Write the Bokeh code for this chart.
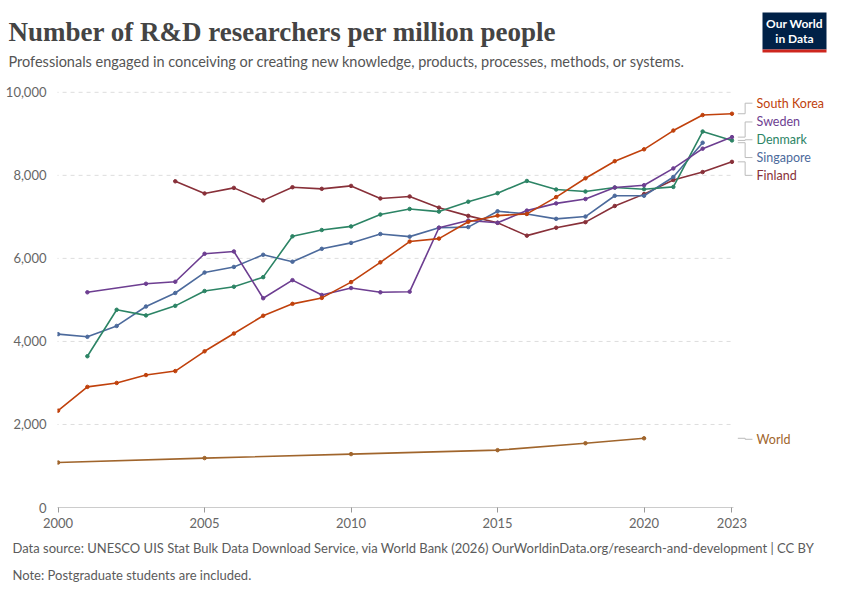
from bokeh.plotting import figure
from bokeh.layouts import column
from bokeh.models import Title, FixedTicker, NumeralTickFormatter
from bokeh.core.properties import value
from bokeh.embed import file_html
from bokeh.resources import INLINE

years = list(range(2000, 2024))
south_korea = [2333, 2905, 3000, 3190, 3286, 3762, 4190, 4619, 4905, 5048, 5429, 5905, 6405, 6476, 6881, 7030, 7071, 7476, 7929, 8341, 8627, 9079, 9452, 9484]
finland_years = list(range(2004, 2024))
finland = [7857, 7564, 7698, 7397, 7714, 7675, 7746, 7444, 7492, 7222, 7024, 6857, 6548, 6738, 6873, 7262, 7548, 7889, 8079, 8325]
denmark_years = list(range(2001, 2024))
denmark = [3643, 4762, 4627, 4857, 5214, 5317, 5548, 6532, 6683, 6770, 7056, 7190, 7127, 7365, 7571, 7865, 7659, 7611, 7706, 7667, 7722, 9056, 8841]
singapore_years = list(range(2000, 2023))
singapore = [4175, 4111, 4373, 4841, 5167, 5659, 5794, 6087, 5920, 6230, 6373, 6587, 6524, 6738, 6754, 7135, 7071, 6952, 7008, 7508, 7508, 7960, 8786]
sweden_years = [2001] + list(range(2003, 2024))
sweden = [5183, 5389, 5437, 6111, 6167, 5040, 5476, 5119, 5286, 5183, 5198, 6738, 6913, 6857, 7151, 7325, 7429, 7706, 7762, 8167, 8643, 8921]
world_years = [2000, 2005, 2010, 2015, 2018, 2020]
world = [1083, 1190, 1286, 1381, 1548, 1667]
y_ticks = [0, 2000, 4000, 6000, 8000, 10000]
x_ticks = [2000, 2005, 2010, 2015, 2020, 2023]

series = [
    ("World", world_years, world, "#a0652c", 1643),
    ("Finland", finland_years, finland, "#883039", 8000),
    ("Singapore", singapore_years, singapore, "#4c6a9c", 8429),
    ("Denmark", denmark_years, denmark, "#2c8465", 8857),
    ("Sweden", sweden_years, sweden, "#6d3e91", 9286),
    ("South Korea", years, south_korea, "#c0410c", 9738),
]

FONT = "Lato"
W = 834
HH = 82

# ---- header ----
h = figure(width=W, height=HH, output_backend="svg", toolbar_location=None,
           x_range=(0, W), y_range=(0, HH), min_border=0, outline_line_color=None)
h.axis.visible = False
h.grid.visible = False
h.text(x=[8], y=[HH - 31], text=["Number of R&D researchers per million people"],
       text_font=value("Liberation Serif"), text_font_size="27px", text_font_style="bold",
       text_color="#444444", text_baseline="middle")
h.text(x=[8], y=[HH - 61], text=["Professionals engaged in conceiving or creating new knowledge, products, processes, methods, or systems."],
       text_font=value(FONT), text_font_size="14.5px", text_color="#555555", text_baseline="middle")
h.quad(left=[762], right=[826], top=[HH - 12], bottom=[HH - 49], fill_color="#002147", line_color=None)
h.quad(left=[762], right=[826], top=[HH - 49], bottom=[HH - 52], fill_color="#ce261e", line_color=None)
h.text(x=[794, 794], y=[HH - 23, HH - 38], text=["Our World", "in Data"], text_font=value(FONT),
       text_font_size="12px", text_font_style="bold", text_color="white",
       text_align="center", text_baseline="middle")

# ---- main ----
X0, X1 = 1999.98, 2026.5
p = figure(width=W, height=584 - HH, output_backend="svg", toolbar_location=None,
           x_range=(X0, X1), y_range=(0, 10140),
           min_border_left=57, min_border_right=0, min_border_top=4, min_border_bottom=8,
           outline_line_color=None)
p.grid.visible = False

gy = y_ticks[1:]
p.segment(x0=[X0 - 0.1] * len(gy), x1=[2023.05] * len(gy), y0=gy, y1=gy,
          line_color="#dddddd", line_dash="4 4", line_width=1)
p.segment(x0=[X0 - 0.1], x1=[2023.05], y0=[0], y1=[0], line_color="#999999", line_width=1)

for name, xs, ys, col, ly in series:
    p.line(xs, ys, line_color=col, line_width=1.6)
    p.scatter(xs, ys, color=col, size=3.5)
    ex, ey = xs[-1], ys[-1]
    p.line([2023.2, 2023.45, 2023.45, 2023.7], [ey, ey, ly, ly], line_color="#bbbbbb", line_width=1)
    p.text(x=[2023.84], y=[ly], text=[name], text_color=col, text_font=value(FONT),
           text_font_size="12.5px", text_baseline="middle")

p.xaxis.ticker = FixedTicker(ticks=x_ticks)
p.yaxis.ticker = FixedTicker(ticks=y_ticks)
p.yaxis.formatter = NumeralTickFormatter(format="0,0")
for ax in (p.xaxis, p.yaxis):
    ax.major_label_text_font = FONT
    ax.major_label_text_font_size = "13px"
    ax.major_label_text_color = "#666666"
    ax.minor_tick_line_color = None
    ax.axis_line_color = None
p.yaxis.major_tick_line_color = None
p.xaxis.major_tick_line_color = "#999999"
p.xaxis.major_tick_in = 0
p.xaxis.major_tick_out = 5

p.add_layout(Title(text="Data source: UNESCO UIS Stat Bulk Data Download Service, via World Bank (2026)        OurWorldinData.org/research-and-development | CC BY",
                   text_font=FONT, text_font_size="13px", text_font_style="normal",
                   text_color="#5b5b5b", align="left", offset=-45, standoff=14), "below")
p.add_layout(Title(text="Note: Postgraduate students are included.", text_font=FONT,
                   text_font_size="13px", text_font_style="normal", text_color="#5b5b5b",
                   align="left", offset=-45, standoff=4), "below")

layout = column(column(h), column(p), spacing=0)
open("out.html", "w").write(file_html(layout, INLINE))
